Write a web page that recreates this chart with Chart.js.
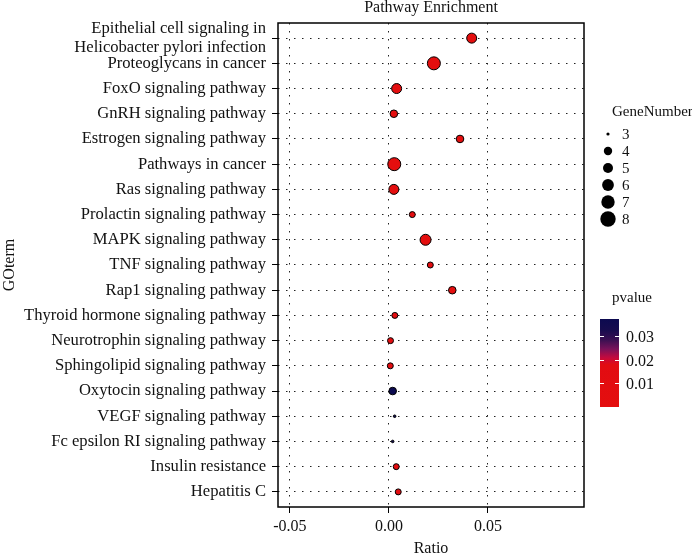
<!DOCTYPE html>
<html>
<head>
<meta charset="utf-8">
<script src="https://cdn.jsdelivr.net/npm/chart.js@4.4.1/dist/chart.umd.min.js"></script>
<style>
  html, body { margin: 0; padding: 0; background: #fff; }
  #wrap { width: 692px; height: 554px; }
</style>
</head>
<body>
<div id="wrap"><canvas id="enrich" width="692" height="554"></canvas></div>
<script>
// pathways, top row first ("\n" = line break in the label)
const terms = [
  "Epithelial cell signaling in\nHelicobacter pylori infection",
  "Proteoglycans in cancer",
  "FoxO signaling pathway",
  "GnRH signaling pathway",
  "Estrogen signaling pathway",
  "Pathways in cancer",
  "Ras signaling pathway",
  "Prolactin signaling pathway",
  "MAPK signaling pathway",
  "TNF signaling pathway",
  "Rap1 signaling pathway",
  "Thyroid hormone signaling pathway",
  "Neurotrophin signaling pathway",
  "Sphingolipid signaling pathway",
  "Oxytocin signaling pathway",
  "VEGF signaling pathway",
  "Fc epsilon RI signaling pathway",
  "Insulin resistance",
  "Hepatitis C"
];
const ratio = [0.0418, 0.0227, 0.0039, 0.0025, 0.0359, 0.0027, 0.0025, 0.0118, 0.0185, 0.0209,
               0.0320, 0.0030, 0.0008, 0.0007, 0.0019, 0.0029, 0.0019, 0.0037, 0.0047];
const geneNumber = [6, 8, 6, 5, 5, 8, 6, 4, 7, 4, 5, 4, 4, 4, 5, 3, 3, 4, 4];
const pvalue = [0.0004, 0.0002, 0.003, 0.006, 0.002, 0.001, 0.004, 0.008, 0.002, 0.007,
                0.003, 0.009, 0.010, 0.009, 0.0372, 0.035, 0.036, 0.008, 0.007];

const xTicks = [-0.05, 0, 0.05];
const sizeLevels = [3, 4, 5, 6, 7, 8];
const pvalueTicks = [0.01, 0.02, 0.03];
const pvalueMin = 0, pvalueMax = 0.0372;

const FONT = "'Liberation Serif', 'Times New Roman', serif";
Chart.defaults.font.family = FONT;
Chart.defaults.color = '#111';

// point radius (in px) for each gene count
function dotRadius(n) {
  return {3: 1.3, 4: 3.0, 5: 3.8, 6: 5.0, 7: 5.5, 8: 6.5}[n];
}
function keyRadius(n) {
  return {3: 1.6, 4: 4.2, 5: 5.0, 6: 5.9, 7: 6.7, 8: 7.7}[n];
}

// red -> navy colour ramp
const ramp = [
  [0, [228, 14, 14]],
  [0.48, [226, 12, 18]],
  [0.56, [196, 10, 62]],
  [0.66, [120, 18, 90]],
  [0.76, [60, 16, 82]],
  [0.88, [22, 12, 78]],
  [1, [12, 10, 80]]
];
function pColor(p) {
  let t = (p - pvalueMin) / (pvalueMax - pvalueMin);
  t = Math.max(0, Math.min(1, t));
  for (let i = 1; i < ramp.length; i++) {
    if (t <= ramp[i][0]) {
      const [t0, c0] = ramp[i - 1], [t1, c1] = ramp[i];
      const f = (t - t0) / (t1 - t0);
      const c = c0.map((v, k) => Math.round(v + (c1[k] - v) * f));
      return `rgb(${c[0]},${c[1]},${c[2]})`;
    }
  }
  return 'rgb(12,10,80)';
}

const points = ratio.map((r, i) => ({x: r, y: i + 1}));

const extras = {
  id: 'extras',
  beforeDatasetsDraw(chart) {
    const {ctx, chartArea: a} = chart;
    ctx.save();
    ctx.strokeStyle = '#000';
    ctx.lineWidth = 1.5;
    ctx.strokeRect(a.left, a.top, a.right - a.left, a.bottom - a.top);
    ctx.restore();
  },
  afterDraw(chart) {
    const {ctx, chartArea: a} = chart;
    ctx.save();
    ctx.fillStyle = '#111';
    ctx.font = `16px ${FONT}`;
    ctx.textAlign = 'center';
    ctx.textBaseline = 'alphabetic';
    ctx.fillText('Pathway Enrichment', (a.left + a.right) / 2, 12);

    // size legend
    ctx.textAlign = 'left';
    ctx.font = `15px ${FONT}`;
    ctx.textBaseline = 'middle';
    ctx.fillText('GeneNumber', a.right + 28, 112);
    sizeLevels.forEach((n, i) => {
      const y = 134 + i * 17;
      ctx.beginPath();
      ctx.arc(a.right + 24, y, keyRadius(n), 0, Math.PI * 2);
      ctx.fillStyle = '#000';
      ctx.fill();
      ctx.fillStyle = '#111';
      ctx.fillText(String(n), a.right + 38, y + 1);
    });

    // colour bar
    ctx.fillText('pvalue', a.right + 28, 298);
    const bx = a.right + 16, bw = 19, btop = 319, bbot = 407;
    const g = ctx.createLinearGradient(0, bbot, 0, btop);
    ramp.forEach(([t, c]) => g.addColorStop(t, `rgb(${c[0]},${c[1]},${c[2]})`));
    ctx.fillStyle = g;
    ctx.fillRect(bx, btop, bw, bbot - btop);
    ctx.font = `16px ${FONT}`;
    pvalueTicks.forEach(p => {
      const y = Math.round(bbot - (p - pvalueMin) / (pvalueMax - pvalueMin) * (bbot - btop)) + 0.5;
      ctx.strokeStyle = '#fff';
      ctx.lineWidth = 1;
      ctx.beginPath();
      ctx.moveTo(bx, y); ctx.lineTo(bx + 4, y);
      ctx.moveTo(bx + bw - 4, y); ctx.lineTo(bx + bw, y);
      ctx.stroke();
      ctx.fillStyle = '#111';
      ctx.fillText(p.toFixed(2), bx + bw + 7, y + 1);
    });
    ctx.restore();
  }
};

new Chart(document.getElementById('enrich'), {
  type: 'scatter',
  data: {
    datasets: [{
      data: points,
      pointRadius: ctx => dotRadius(geneNumber[ctx.dataIndex]),
      pointHoverRadius: ctx => dotRadius(geneNumber[ctx.dataIndex]),
      pointBackgroundColor: ctx => pColor(pvalue[ctx.dataIndex]),
      pointBorderColor: '#000',
      pointBorderWidth: 1
    }]
  },
  options: {
    responsive: false,
    animation: false,
    layout: { padding: { top: 23, right: 108, left: 0, bottom: 0 } },
    plugins: { legend: { display: false }, tooltip: { enabled: false }, title: { display: false } },
    scales: {
      x: {
        type: 'linear',
        min: -0.056,
        max: 0.0985,
        afterFit: s => { s.height = 47; },
        afterBuildTicks: s => { s.ticks = xTicks.map(v => ({value: v})); },
        ticks: {
          includeBounds: false,
          padding: 4,
          font: { size: 16 },
          color: '#111',
          callback: v => v.toFixed(2)
        },
        grid: { color: '#222', lineWidth: 1, tickLength: 6, tickColor: '#000' },
        border: { display: false, dash: [1.5, 6.5] },
        title: { display: true, text: 'Ratio', font: { size: 16 }, color: '#111', padding: { top: 0, bottom: -4 } }
      },
      y: {
        type: 'linear',
        reverse: true,
        min: 0.4,
        max: 19.6,
        afterFit: s => { s.width = 278; },
        afterBuildTicks: s => { s.ticks = terms.map((t, i) => ({value: i + 1})); },
        ticks: {
          autoSkip: false,
          padding: 6,
          font: { size: 16.6, lineHeight: 1.2 },
          color: '#111',
          callback: v => {
            const t = terms[Math.round(v) - 1];
            return t && t.includes('\n') ? t.split('\n') : t;
          }
        },
        grid: { color: '#222', lineWidth: 1, tickLength: 6, tickColor: '#000' },
        border: { display: false, dash: [1.5, 6.5] },
        title: { display: true, text: 'GOterm', font: { size: 16 }, color: '#111', padding: { top: 0, bottom: 0 } }
      }
    }
  },
  plugins: [extras]
});
</script>
</body>
</html>
